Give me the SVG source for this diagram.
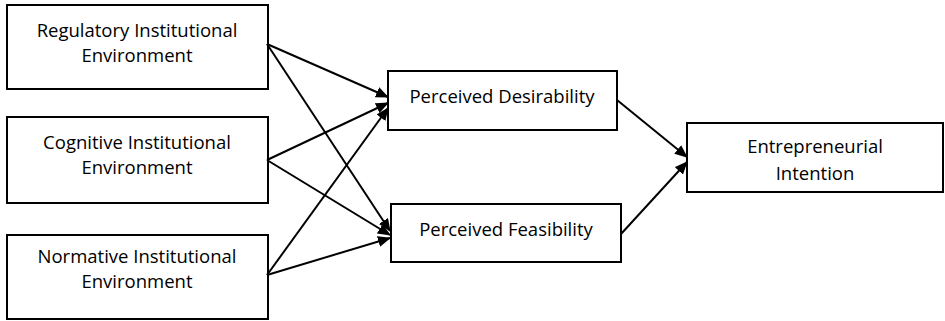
<svg xmlns="http://www.w3.org/2000/svg" width="945" height="321" viewBox="0 0 945 321">
<style>
.box{fill:#fff;stroke:#000;stroke-width:2}
.t{font-family:"Open Sans","Liberation Sans",Arial,sans-serif;font-size:18.5px;fill:#000;text-anchor:middle}
.c{stroke:#000;stroke-width:2;fill:none;marker-end:url(#ah)}
</style>
<defs>
<marker id="ah" markerWidth="13" markerHeight="11" refX="12" refY="5.5" orient="auto" markerUnits="userSpaceOnUse">
<path d="M0,0 L13,5.5 L0,11 Z" fill="#000"/>
</marker>
</defs>
<rect width="945" height="321" fill="#fff"/>
<g id="regulatory"><rect class="box" x="7" y="5" width="261" height="84"/><text class="t" x="137" y="37">Regulatory Institutional</text><text class="t" x="137" y="62">Environment</text></g>
<g id="cognitive"><rect class="box" x="7" y="117" width="261" height="86"/><text class="t" x="137" y="149">Cognitive Institutional</text><text class="t" x="137" y="174">Environment</text></g>
<g id="normative"><rect class="box" x="7" y="235" width="261" height="84"/><text class="t" x="137" y="263">Normative Institutional</text><text class="t" x="137" y="288">Environment</text></g>
<g id="desirability"><rect class="box" x="388" y="71" width="229" height="59"/><text class="t" x="502" y="103">Perceived Desirability</text></g>
<g id="feasibility"><rect class="box" x="391" y="204" width="230" height="58"/><text class="t" x="506" y="236">Perceived Feasibility</text></g>
<g id="intention"><rect class="box" x="687" y="123" width="256" height="69"/><text class="t" x="815" y="153">Entrepreneurial</text><text class="t" x="815" y="180">Intention</text></g>
<g id="connectors">
<line class="c" x1="267" y1="44" x2="388" y2="97"/>
<line class="c" x1="267" y1="44" x2="390" y2="231"/>
<line class="c" x1="267" y1="160" x2="388" y2="103"/>
<line class="c" x1="267" y1="160" x2="390" y2="235"/>
<line class="c" x1="267" y1="275" x2="388" y2="108"/>
<line class="c" x1="267" y1="275" x2="390" y2="238"/>
<line class="c" x1="617" y1="100" x2="687" y2="157"/>
<line class="c" x1="621" y1="234" x2="687" y2="162"/>
</g>
</svg>
